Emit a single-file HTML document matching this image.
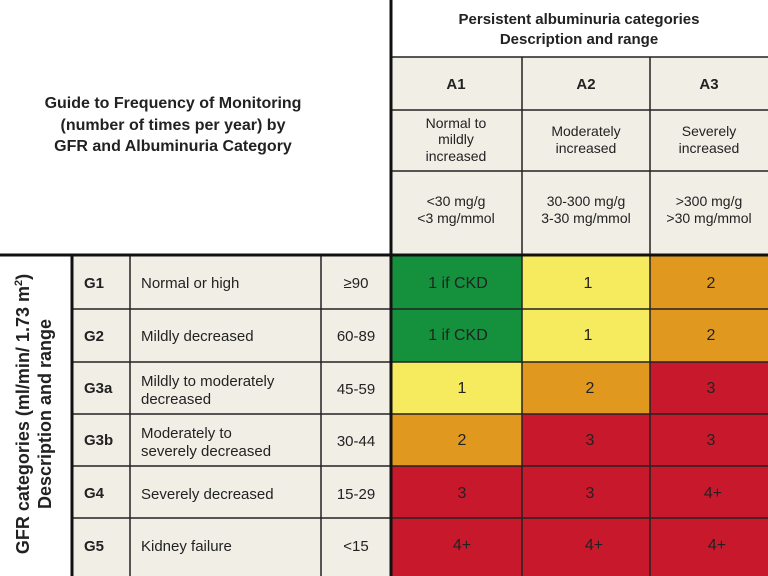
<!DOCTYPE html>
<html><head><style>body{margin:0;background:#fff}svg{display:block}text{font-family:"Liberation Sans",Arial,sans-serif;fill:#222}</style></head><body>
<svg width="768" height="576" viewBox="0 0 768 576" xmlns="http://www.w3.org/2000/svg">
<rect width="768" height="576" fill="#fff"/>
<rect x="391" y="57" width="377" height="198" fill="#f1eee6"/>
<rect x="72" y="255" width="319" height="321" fill="#f1eee6"/>
<g>
<rect x="391" y="255" width="131" height="54" fill="#15913e"/><rect x="522" y="255" width="128" height="54" fill="#f6ea5f"/><rect x="650" y="255" width="118" height="54" fill="#e0991e"/>
<rect x="391" y="309" width="131" height="53" fill="#15913e"/><rect x="522" y="309" width="128" height="53" fill="#f6ea5f"/><rect x="650" y="309" width="118" height="53" fill="#e0991e"/>
<rect x="391" y="362" width="131" height="52" fill="#f6ea5f"/><rect x="522" y="362" width="128" height="52" fill="#e0991e"/><rect x="650" y="362" width="118" height="52" fill="#c8192c"/>
<rect x="391" y="414" width="131" height="52" fill="#e0991e"/><rect x="522" y="414" width="128" height="52" fill="#c8192c"/><rect x="650" y="414" width="118" height="52" fill="#c8192c"/>
<rect x="391" y="466" width="131" height="52" fill="#c8192c"/><rect x="522" y="466" width="128" height="52" fill="#c8192c"/><rect x="650" y="466" width="118" height="52" fill="#c8192c"/>
<rect x="391" y="518" width="131" height="58" fill="#c8192c"/><rect x="522" y="518" width="128" height="58" fill="#c8192c"/><rect x="650" y="518" width="118" height="58" fill="#c8192c"/>
</g>
<g stroke="#222" stroke-width="1.5">
<line x1="391" y1="57" x2="768" y2="57"/><line x1="391" y1="110" x2="768" y2="110"/><line x1="391" y1="171" x2="768" y2="171"/>
<line x1="522" y1="57" x2="522" y2="576"/><line x1="650" y1="57" x2="650" y2="576"/>
<line x1="72" y1="309" x2="768" y2="309"/><line x1="72" y1="362" x2="768" y2="362"/><line x1="72" y1="414" x2="768" y2="414"/><line x1="72" y1="466" x2="768" y2="466"/><line x1="72" y1="518" x2="768" y2="518"/>
<line x1="130" y1="255" x2="130" y2="576"/><line x1="321" y1="255" x2="321" y2="576"/>
</g>
<g stroke="#111" stroke-width="3">
<line x1="0" y1="255" x2="768" y2="255"/><line x1="391" y1="0" x2="391" y2="576"/><line x1="72" y1="255" x2="72" y2="576"/>
</g>
<g font-size="15" font-weight="bold" text-anchor="middle">
<text x="579" y="24">Persistent albuminuria categories</text>
<text x="579" y="44">Description and range</text>
<text x="456" y="89">A1</text><text x="586" y="89">A2</text><text x="709" y="89">A3</text>
<text x="173" y="108" font-size="16">Guide to Frequency of Monitoring</text>
<text x="173" y="130" font-size="16">(number of times per year) by</text>
<text x="173" y="151" font-size="16">GFR and Albuminuria Category</text>
</g>
<g font-size="14" text-anchor="middle">
<text x="456" y="128">Normal to</text><text x="456" y="144">mildly</text><text x="456" y="161">increased</text>
<text x="586" y="136">Moderately</text><text x="586" y="153">increased</text>
<text x="709" y="136">Severely</text><text x="709" y="153">increased</text>
<text x="456" y="206">&lt;30 mg/g</text><text x="456" y="223">&lt;3 mg/mmol</text>
<text x="586" y="206">30-300 mg/g</text><text x="586" y="223">3-30 mg/mmol</text>
<text x="709" y="206">&gt;300 mg/g</text><text x="709" y="223">&gt;30 mg/mmol</text>
</g>
<g font-size="18" font-weight="bold" text-anchor="middle" transform="translate(36,414) rotate(-90)">
<text x="0" y="-7">GFR categories (ml/min/ 1.73 m<tspan font-size="11" dy="-7">2</tspan><tspan dy="7">)</tspan></text>
<text x="0" y="15">Description and range</text>
</g>
<g font-size="15">
<g font-weight="bold"><text x="84" y="288">G1</text><text x="84" y="341">G2</text><text x="84" y="393">G3a</text><text x="84" y="445">G3b</text><text x="84" y="498">G4</text><text x="84" y="551">G5</text></g>
<text x="141" y="288">Normal or high</text>
<text x="141" y="341">Mildly decreased</text>
<text x="141" y="386">Mildly to moderately</text><text x="141" y="404">decreased</text>
<text x="141" y="438">Moderately to</text><text x="141" y="456">severely decreased</text>
<text x="141" y="499">Severely decreased</text>
<text x="141" y="551">Kidney failure</text>
<g text-anchor="middle"><text x="356" y="288">≥90</text><text x="356" y="341">60-89</text><text x="356" y="394">45-59</text><text x="356" y="446">30-44</text><text x="356" y="499">15-29</text><text x="356" y="551">&lt;15</text></g>
</g>
<g font-size="16" text-anchor="middle" fill="#222">
<text x="458" y="288">1 if CKD</text><text x="588" y="288">1</text><text x="711" y="288">2</text>
<text x="458" y="340">1 if CKD</text><text x="588" y="340">1</text><text x="711" y="340">2</text>
<text x="462" y="393">1</text><text x="590" y="393">2</text><text x="711" y="393">3</text>
<text x="462" y="445">2</text><text x="590" y="445">3</text><text x="711" y="445">3</text>
<text x="462" y="498">3</text><text x="590" y="498">3</text><text x="713" y="498">4+</text>
<text x="462" y="550">4+</text><text x="594" y="550">4+</text><text x="717" y="550">4+</text>
</g>
</svg>
</body></html>
